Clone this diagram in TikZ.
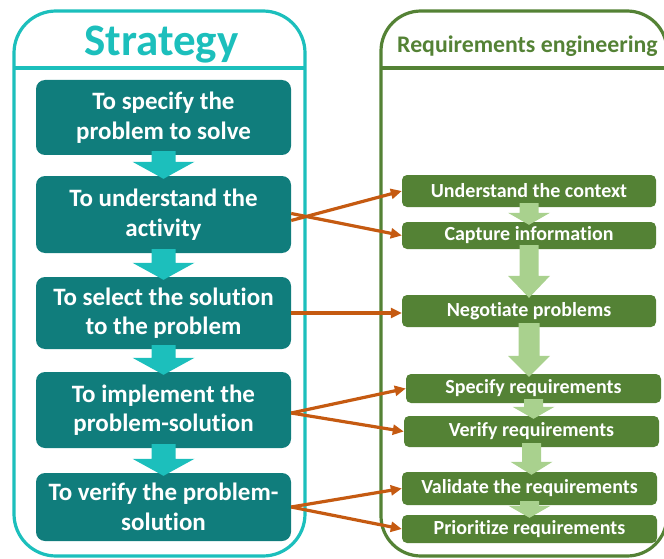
\documentclass[tikz,border=0pt]{standalone}
\usepackage{fontspec}
\setmainfont{Carlito}[Ligatures=NoCommon]
\usetikzlibrary{arrows.meta,calc}
\definecolor{cyanc}{HTML}{1CBFBC}
\definecolor{tealbox}{HTML}{107D7C}
\definecolor{greenc}{HTML}{548235}
\definecolor{lgreen}{HTML}{A9D18E}
\definecolor{orangec}{HTML}{C55A11}
\newcommand{\blockarr}[6]{% from, to, shaft half, head half, head length, colour
  \fill[#6] let \p1=(#1.south), \p2=(#2.north) in
   (\x1-#3pt,\y1+4pt) -- (\x1-#3pt,\y2-3pt+#5pt) -- (\x1-#4pt,\y2-3pt+#5pt) -- (\x1,\y2-3pt)
   -- (\x1+#4pt,\y2-3pt+#5pt) -- (\x1+#3pt,\y2-3pt+#5pt) -- (\x1+#3pt,\y1+4pt) -- cycle;}
\begin{document}
\begin{tikzpicture}[x=1pt,y=-1pt,
  lbox/.style={fill=tealbox, rounded corners=9pt, text=white, align=center,
    font=\bfseries\fontsize{25}{29.5}\selectfont, minimum width=255pt, inner sep=0pt},
  rbox/.style={fill=greenc, rounded corners=5pt, text=white, align=center,
    font=\bfseries\fontsize{20}{24}\selectfont, inner sep=0pt},
  conn/.style={draw=orangec, line width=3.2pt, -{Triangle[length=11pt,width=10pt]}}]
\useasboundingbox (0,0) rectangle (664,559);
% containers
\draw[cyanc, line width=3.2pt, rounded corners=42pt] (14,300) -- (14,556) -- (305,556) -- (305,11) -- (14,11) -- cycle;
\draw[cyanc, line width=3.2pt] (14,68) -- (305,68);
\draw[greenc, line width=3.2pt, rounded corners=40pt] (381,300) -- (381,556) -- (667,556) -- (667,11) -- (381,11) -- cycle;
\draw[greenc, line width=3.2pt] (381,68) -- (667,68);
\node[anchor=base, text=cyanc, font=\bfseries\fontsize{45}{52}\selectfont] (T1) at (161.5,56) {Strategy};
\node[anchor=base, text=greenc, font=\bfseries\fontsize{23.8}{28}\selectfont] (T2) at (527.5,53) {Requirements engineering};
% left boxes
\node[lbox, minimum height=75pt] (B1) at (163.5,117.5) {To specify the\\problem to solve};
\node[lbox, minimum height=77pt] (B2) at (163.5,214.5) {To understand the\\activity};
\node[lbox, minimum height=72pt] (B3) at (163.5,313) {To select the solution\\to the problem};
\node[lbox, minimum height=76pt] (B4) at (163.5,410) {To implement the\\problem-solution};
\node[lbox, minimum height=68pt] (B5) at (163.5,507) {To verify the problem-\\solution};
% right boxes
\node[rbox, minimum width=254pt, minimum height=32pt] (R1) at (529,191) {Understand the context};
\node[rbox, minimum width=254pt, minimum height=27pt] (R2) at (529,235.5) {Capture information};
\node[rbox, minimum width=254pt, minimum height=32pt] (R3) at (529,311) {Negotiate problems};
\node[rbox, minimum width=255pt, minimum height=29pt] (R4) at (533.5,388.5) {Specify requirements};
\node[rbox, minimum width=255pt, minimum height=31pt] (R5) at (531.5,431.5) {Verify requirements};
\node[rbox, minimum width=255pt, minimum height=33pt] (R6) at (529.5,488.5) {Validate the requirements};
\node[rbox, minimum width=255pt, minimum height=28pt] (R7) at (529.5,529) {Prioritize requirements};
% block arrows
\blockarr{B1}{B2}{12}{31}{17}{cyanc}
\blockarr{B2}{B3}{12}{31}{17}{cyanc}
\blockarr{B3}{B4}{12}{31}{17}{cyanc}
\blockarr{B4}{B5}{12}{31}{17}{cyanc}
\blockarr{R1}{R2}{9.5}{21}{12}{lgreen}
\blockarr{R2}{R3}{9.5}{21}{22}{lgreen}
\blockarr{R3}{R4}{10.5}{21}{21}{lgreen}
\blockarr{R4}{R5}{9.5}{21}{12}{lgreen}
\blockarr{R5}{R6}{9.5}{21}{13}{lgreen}
\blockarr{R6}{R7}{9.5}{21}{12}{lgreen}
% connectors
\draw[conn] ([yshift=-6pt]B2.east) -- (R1.west);
\draw[conn] ([yshift=1pt]B2.east) -- (R2.west);
\draw[conn] (B3.east) -- (B3.east -| R3.west);
\draw[conn] ([yshift=-3pt]B4.east) -- (R4.west);
\draw[conn] ([yshift=-3pt]B4.east) -- (R5.west);
\draw[conn] (B5.east) -- (R6.west);
\draw[conn] (B5.east) -- (R7.west);
\end{tikzpicture}
\end{document}
